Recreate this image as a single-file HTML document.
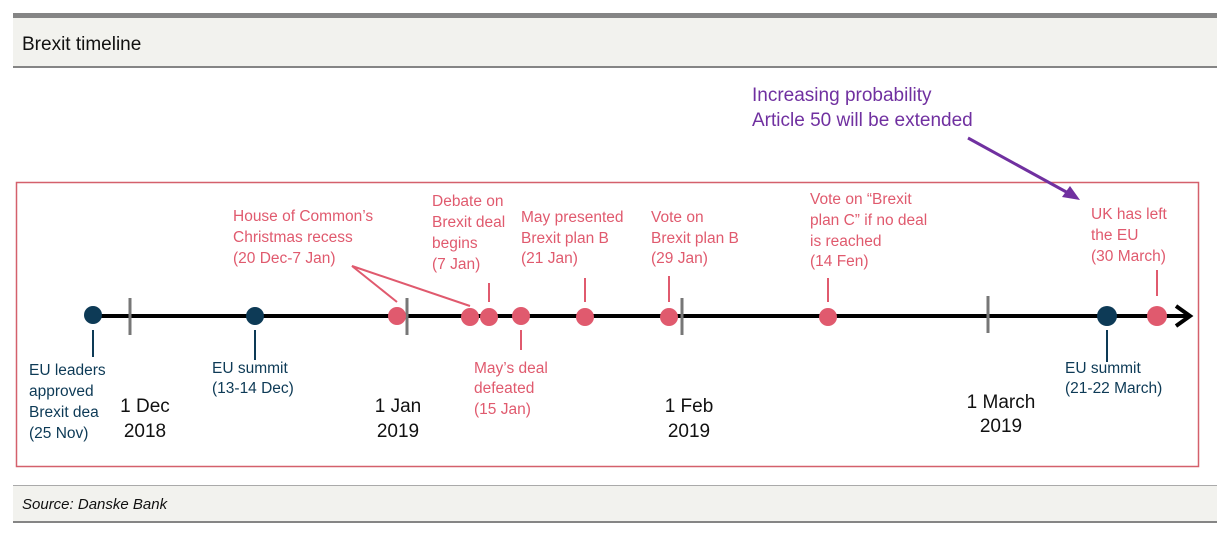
<!DOCTYPE html>
<html><head><meta charset="utf-8"><style>
html,body{margin:0;padding:0;background:#fff;}
svg{display:block;font-family:"Liberation Sans",sans-serif;}
</style></head><body>
<svg width="1230" height="537" viewBox="0 0 1230 537" xmlns="http://www.w3.org/2000/svg">
<rect x="13" y="18" width="1204" height="49" fill="#f2f2ee"/>
<rect x="13" y="13" width="1204" height="5" fill="#858585"/>
<rect x="13" y="66" width="1204" height="2" fill="#858585"/>
<text x="22" y="50" font-size="19" fill="#111">Brexit timeline</text>
<rect x="13" y="486" width="1204" height="36" fill="#f2f2ee"/>
<rect x="13" y="485" width="1204" height="1" fill="#aaa"/>
<rect x="13" y="521" width="1204" height="2" fill="#858585"/>
<text x="22" y="509" font-size="15" font-style="italic" fill="#111">Source: Danske Bank</text>
<rect x="16.5" y="182.5" width="1182" height="284" fill="none" stroke="#d4606c" stroke-width="1.5"/>
<g fill="#7030a0" font-size="19"><text x="752" y="101">Increasing probability</text><text x="752" y="126">Article 50 will be extended</text></g>
<line x1="968" y1="138" x2="1070" y2="194" stroke="#7030a0" stroke-width="3"/>
<polygon points="1080,200 1062,197 1070,186" fill="#7030a0"/>
<line x1="90" y1="316" x2="1188" y2="316" stroke="#000" stroke-width="4"/>
<polyline points="1176,306 1190,316 1176,326" fill="none" stroke="#000" stroke-width="4"/>
<g stroke="#777" stroke-width="3"><line x1="130" y1="298" x2="130" y2="335"/><line x1="407" y1="298" x2="407" y2="335"/><line x1="682" y1="298" x2="682" y2="335"/><line x1="988" y1="296" x2="988" y2="333"/></g>
<g stroke="#e05a6e" stroke-width="2" fill="none">
<polyline points="397,302 352,266 470,306"/>
<line x1="489" y1="283" x2="489" y2="302"/><line x1="521" y1="330" x2="521" y2="350"/>
<line x1="585" y1="278" x2="585" y2="302"/><line x1="669" y1="276" x2="669" y2="302"/>
<line x1="828" y1="278" x2="828" y2="302"/><line x1="1157" y1="270" x2="1157" y2="296"/></g>
<g stroke="#0d3a56" stroke-width="2"><line x1="93" y1="330" x2="93" y2="357"/><line x1="255" y1="330" x2="255" y2="360"/><line x1="1107" y1="330" x2="1107" y2="362"/></g>
<g fill="#0d3a56"><circle cx="93" cy="315" r="9"/><circle cx="255" cy="316" r="9"/><circle cx="1107" cy="316" r="10"/></g>
<g fill="#e05a6e"><circle cx="397" cy="316" r="9"/><circle cx="470" cy="317" r="9"/><circle cx="489" cy="317" r="9"/><circle cx="521" cy="316" r="9"/><circle cx="585" cy="317" r="9"/><circle cx="669" cy="317" r="9"/><circle cx="828" cy="317" r="9"/><circle cx="1157" cy="316" r="10"/></g>
<g fill="#e05a6e" font-size="15.5">
<text x="233" y="221">House of Common’s</text><text x="233" y="242">Christmas recess</text><text x="233" y="263">(20 Dec-7 Jan)</text>
<text x="432" y="206">Debate on</text><text x="432" y="227">Brexit deal</text><text x="432" y="248">begins</text><text x="432" y="269">(7 Jan)</text>
<text x="521" y="222">May presented</text><text x="521" y="243">Brexit plan B</text><text x="521" y="263">(21 Jan)</text>
<text x="651" y="222">Vote on</text><text x="651" y="243">Brexit plan B</text><text x="651" y="263">(29 Jan)</text>
<text x="810" y="204">Vote on “Brexit</text><text x="810" y="225">plan C” if no deal</text><text x="810" y="246">is reached</text><text x="810" y="266">(14 Fen)</text>
<text x="1091" y="219">UK has left</text><text x="1091" y="240">the EU</text><text x="1091" y="261">(30 March)</text>
<text x="474" y="373">May’s deal</text><text x="474" y="393">defeated</text><text x="474" y="414">(15 Jan)</text>
</g>
<g fill="#0d3a56" font-size="15.5">
<text x="29" y="375">EU leaders</text><text x="29" y="396">approved</text><text x="29" y="417">Brexit dea</text><text x="29" y="438">(25 Nov)</text>
<text x="212" y="373">EU summit</text><text x="212" y="393">(13-14 Dec)</text>
<text x="1065" y="373">EU summit</text><text x="1065" y="393">(21-22 March)</text>
</g>
<g fill="#111" font-size="19" text-anchor="middle">
<text x="145" y="412">1 Dec</text><text x="145" y="437">2018</text>
<text x="398" y="412">1 Jan</text><text x="398" y="437">2019</text>
<text x="689" y="412">1 Feb</text><text x="689" y="437">2019</text>
<text x="1001" y="408">1 March</text><text x="1001" y="432">2019</text>
</g>
</svg>
</body></html>
